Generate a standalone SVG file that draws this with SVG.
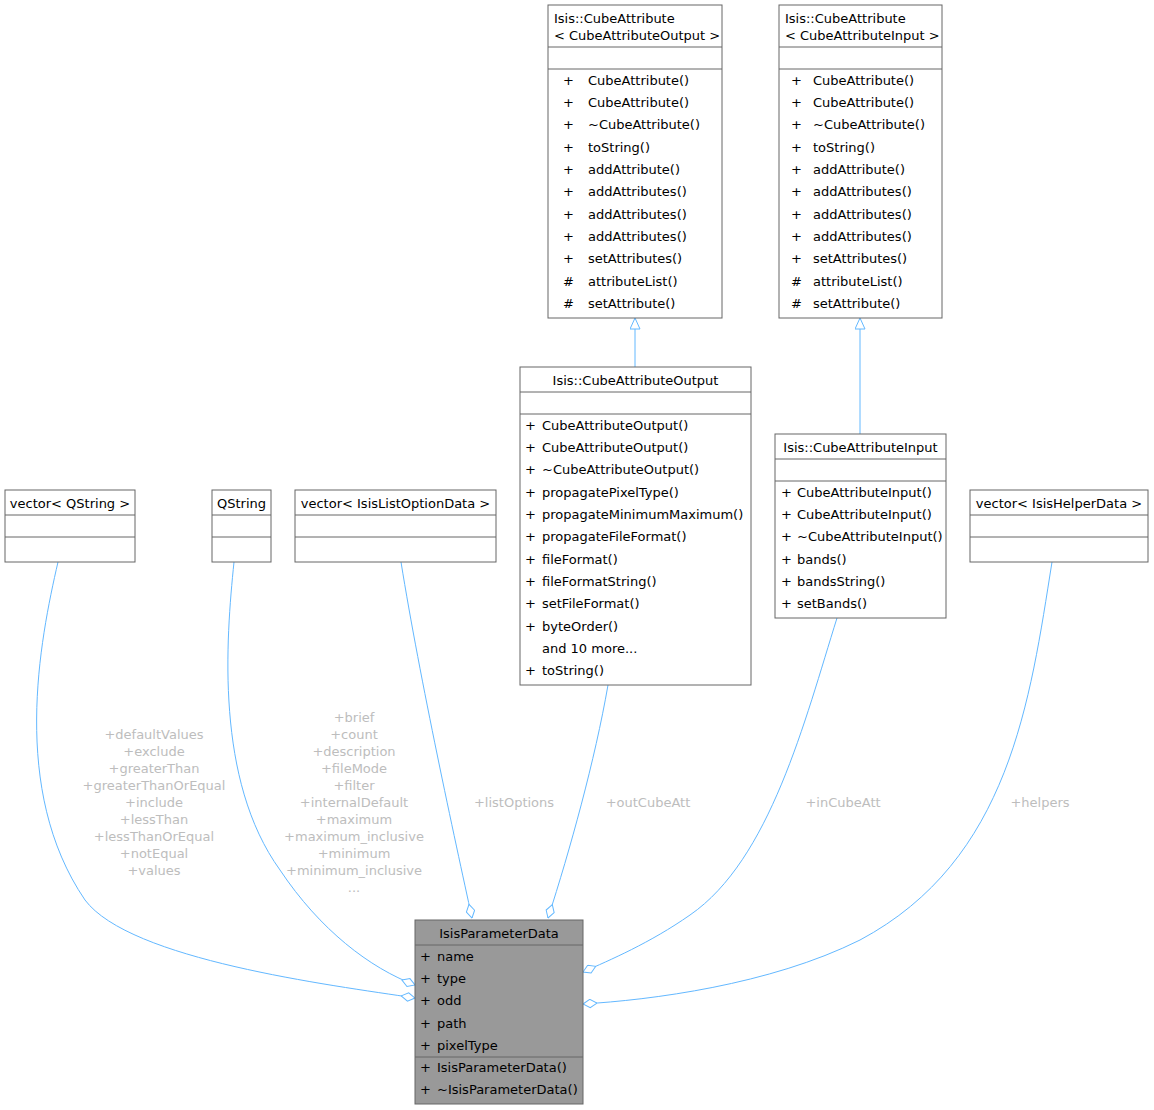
<svg xmlns="http://www.w3.org/2000/svg" width="1154" height="1110" viewBox="0 0 1154 1110">
<style>
text{font-family:"DejaVu Sans",sans-serif;font-size:13px;fill:#000}
.box{fill:#fff;stroke:#666;stroke-width:1}
.sel{fill:#999;stroke:#666;stroke-width:1}
.sep{stroke:#666;stroke-width:1}
.e{fill:none;stroke:#63b8ff;stroke-width:1}
.lbl{fill:#bdbdbd;text-anchor:middle}
.c{text-anchor:middle}
</style>
<defs>
<marker id="dia" viewBox="0 0 15 10" refX="14.5" refY="5" markerWidth="15" markerHeight="10" markerUnits="userSpaceOnUse" orient="auto">
<path d="M0.5,5 L7.5,0.8 L14.5,5 L7.5,9.2 Z" fill="#fff" stroke="#63b8ff" stroke-width="1"/>
</marker>
<marker id="tri" viewBox="0 0 12 11" refX="11.5" refY="5.5" markerWidth="12" markerHeight="11" markerUnits="userSpaceOnUse" orient="auto">
<path d="M0.5,0.5 L11.5,5.5 L0.5,10.5 Z" fill="#fff" stroke="#63b8ff" stroke-width="1"/>
</marker>
</defs>

<g id="edges">
<path class="e" d="M635,367 L635,318" marker-end="url(#tri)"/>
<path class="e" d="M860,434 L860,318" marker-end="url(#tri)"/>
<path class="e" d="M58,562 C40,640 10,790 85,900 C130,960 330,985 415,998" marker-end="url(#dia)"/>
<path class="e" d="M234,562 C226,640 215,780 280,870 C320,930 370,968 415,985" marker-end="url(#dia)"/>
<path class="e" d="M401,562 C420,680 455,840 472,918" marker-end="url(#dia)"/>
<path class="e" d="M608,685 C595,760 570,850 548,918" marker-end="url(#dia)"/>
<path class="e" d="M837,618 C805,720 770,860 690,915 C650,943 610,960 583,972" marker-end="url(#dia)"/>
<path class="e" d="M1052,562 C1030,700 1010,860 860,940 C770,985 650,1000 583,1004" marker-end="url(#dia)"/>
<g class="lbl">
<text x="154" y="739" class="lbl">+defaultValues</text>
<text x="154" y="756" class="lbl">+exclude</text>
<text x="154" y="773" class="lbl">+greaterThan</text>
<text x="154" y="790" class="lbl">+greaterThanOrEqual</text>
<text x="154" y="807" class="lbl">+include</text>
<text x="154" y="824" class="lbl">+lessThan</text>
<text x="154" y="841" class="lbl">+lessThanOrEqual</text>
<text x="154" y="858" class="lbl">+notEqual</text>
<text x="154" y="875" class="lbl">+values</text>
<text x="354" y="722" class="lbl">+brief</text>
<text x="354" y="739" class="lbl">+count</text>
<text x="354" y="756" class="lbl">+description</text>
<text x="354" y="773" class="lbl">+fileMode</text>
<text x="354" y="790" class="lbl">+filter</text>
<text x="354" y="807" class="lbl">+internalDefault</text>
<text x="354" y="824" class="lbl">+maximum</text>
<text x="354" y="841" class="lbl">+maximum_inclusive</text>
<text x="354" y="858" class="lbl">+minimum</text>
<text x="354" y="875" class="lbl">+minimum_inclusive</text>
<text x="354" y="892" class="lbl">...</text>
<text x="514" y="807" class="lbl">+listOptions</text>
<text x="648" y="807" class="lbl">+outCubeAtt</text>
<text x="843" y="807" class="lbl">+inCubeAtt</text>
<text x="1040" y="807" class="lbl">+helpers</text>
</g>
</g>

<g id="CubeAttributeOutputT">
<rect class="box" x="548" y="5" width="174" height="313"/>
<text x="554" y="23">Isis::CubeAttribute</text>
<text x="554" y="40">&lt; CubeAttributeOutput &gt;</text>
<line class="sep" x1="548" y1="47" x2="722" y2="47"/>
<line class="sep" x1="548" y1="69" x2="722" y2="69"/>
<text x="563" y="85">+</text><text x="588" y="85">CubeAttribute()</text>
<text x="563" y="107">+</text><text x="588" y="107">CubeAttribute()</text>
<text x="563" y="129">+</text><text x="588" y="129">~CubeAttribute()</text>
<text x="563" y="152">+</text><text x="588" y="152">toString()</text>
<text x="563" y="174">+</text><text x="588" y="174">addAttribute()</text>
<text x="563" y="196">+</text><text x="588" y="196">addAttributes()</text>
<text x="563" y="219">+</text><text x="588" y="219">addAttributes()</text>
<text x="563" y="241">+</text><text x="588" y="241">addAttributes()</text>
<text x="563" y="263">+</text><text x="588" y="263">setAttributes()</text>
<text x="563" y="286">#</text><text x="588" y="286">attributeList()</text>
<text x="563" y="308">#</text><text x="588" y="308">setAttribute()</text>
</g>

<g id="CubeAttributeInputT">
<rect class="box" x="779" y="5" width="163" height="313"/>
<text x="785" y="23">Isis::CubeAttribute</text>
<text x="785" y="40">&lt; CubeAttributeInput &gt;</text>
<line class="sep" x1="779" y1="47" x2="942" y2="47"/>
<line class="sep" x1="779" y1="69" x2="942" y2="69"/>
<text x="791" y="85">+</text><text x="813" y="85">CubeAttribute()</text>
<text x="791" y="107">+</text><text x="813" y="107">CubeAttribute()</text>
<text x="791" y="129">+</text><text x="813" y="129">~CubeAttribute()</text>
<text x="791" y="152">+</text><text x="813" y="152">toString()</text>
<text x="791" y="174">+</text><text x="813" y="174">addAttribute()</text>
<text x="791" y="196">+</text><text x="813" y="196">addAttributes()</text>
<text x="791" y="219">+</text><text x="813" y="219">addAttributes()</text>
<text x="791" y="241">+</text><text x="813" y="241">addAttributes()</text>
<text x="791" y="263">+</text><text x="813" y="263">setAttributes()</text>
<text x="791" y="286">#</text><text x="813" y="286">attributeList()</text>
<text x="791" y="308">#</text><text x="813" y="308">setAttribute()</text>
</g>

<g id="CubeAttributeOutput">
<rect class="box" x="520" y="367" width="231" height="318"/>
<text x="635.5" y="385" class="c">Isis::CubeAttributeOutput</text>
<line class="sep" x1="520" y1="392" x2="751" y2="392"/>
<line class="sep" x1="520" y1="414" x2="751" y2="414"/>
<text x="525" y="430">+</text><text x="542" y="430">CubeAttributeOutput()</text>
<text x="525" y="452">+</text><text x="542" y="452">CubeAttributeOutput()</text>
<text x="525" y="474">+</text><text x="542" y="474">~CubeAttributeOutput()</text>
<text x="525" y="497">+</text><text x="542" y="497">propagatePixelType()</text>
<text x="525" y="519">+</text><text x="542" y="519">propagateMinimumMaximum()</text>
<text x="525" y="541">+</text><text x="542" y="541">propagateFileFormat()</text>
<text x="525" y="564">+</text><text x="542" y="564">fileFormat()</text>
<text x="525" y="586">+</text><text x="542" y="586">fileFormatString()</text>
<text x="525" y="608">+</text><text x="542" y="608">setFileFormat()</text>
<text x="525" y="631">+</text><text x="542" y="631">byteOrder()</text>
<text x="542" y="653">and 10 more...</text>
<text x="525" y="675">+</text><text x="542" y="675">toString()</text>
</g>

<g id="CubeAttributeInput">
<rect class="box" x="775" y="434" width="171" height="184"/>
<text x="860.5" y="452" class="c">Isis::CubeAttributeInput</text>
<line class="sep" x1="775" y1="459" x2="946" y2="459"/>
<line class="sep" x1="775" y1="481" x2="946" y2="481"/>
<text x="781" y="497">+</text><text x="797" y="497">CubeAttributeInput()</text>
<text x="781" y="519">+</text><text x="797" y="519">CubeAttributeInput()</text>
<text x="781" y="541">+</text><text x="797" y="541">~CubeAttributeInput()</text>
<text x="781" y="564">+</text><text x="797" y="564">bands()</text>
<text x="781" y="586">+</text><text x="797" y="586">bandsString()</text>
<text x="781" y="608">+</text><text x="797" y="608">setBands()</text>
</g>

<g id="vectorQString">
<rect class="box" x="5" y="490" width="130" height="72"/>
<text x="70" y="508" class="c">vector&lt; QString &gt;</text>
<line class="sep" x1="5" y1="515" x2="135" y2="515"/>
<line class="sep" x1="5" y1="537" x2="135" y2="537"/>
</g>

<g id="QString">
<rect class="box" x="212" y="490" width="59" height="72"/>
<text x="241.5" y="508" class="c">QString</text>
<line class="sep" x1="212" y1="515" x2="271" y2="515"/>
<line class="sep" x1="212" y1="537" x2="271" y2="537"/>
</g>

<g id="vectorIsisListOptionData">
<rect class="box" x="295" y="490" width="201" height="72"/>
<text x="395.5" y="508" class="c">vector&lt; IsisListOptionData &gt;</text>
<line class="sep" x1="295" y1="515" x2="496" y2="515"/>
<line class="sep" x1="295" y1="537" x2="496" y2="537"/>
</g>

<g id="vectorIsisHelperData">
<rect class="box" x="970" y="490" width="178" height="72"/>
<text x="1059" y="508" class="c">vector&lt; IsisHelperData &gt;</text>
<line class="sep" x1="970" y1="515" x2="1148" y2="515"/>
<line class="sep" x1="970" y1="537" x2="1148" y2="537"/>
</g>

<g id="IsisParameterData">
<rect class="sel" x="415" y="920" width="168" height="184"/>
<text x="499" y="938" class="c">IsisParameterData</text>
<line class="sep" x1="415" y1="945" x2="583" y2="945"/>
<text x="420" y="961">+</text><text x="437" y="961">name</text>
<text x="420" y="983">+</text><text x="437" y="983">type</text>
<text x="420" y="1005">+</text><text x="437" y="1005">odd</text>
<text x="420" y="1028">+</text><text x="437" y="1028">path</text>
<text x="420" y="1050">+</text><text x="437" y="1050">pixelType</text>
<line class="sep" x1="415" y1="1057" x2="583" y2="1057"/>
<text x="420" y="1072">+</text><text x="437" y="1072">IsisParameterData()</text>
<text x="420" y="1094">+</text><text x="437" y="1094">~IsisParameterData()</text>
</g>
</svg>
